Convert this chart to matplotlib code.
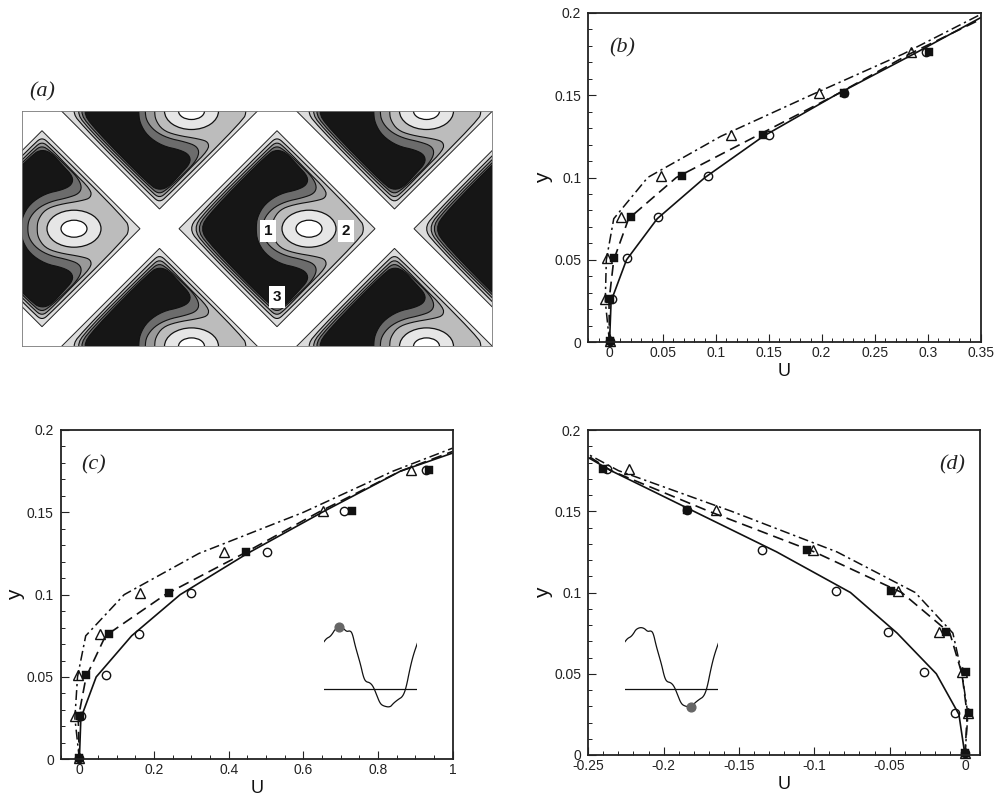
import matplotlib
matplotlib.use('Agg')
import matplotlib.pyplot as plt
from matplotlib.patches import Ellipse, Polygon
from matplotlib.ticker import MultipleLocator

plt.rcParams['font.family'] = ['Liberation Sans', 'DejaVu Sans']

W = 995
H = 797

# measured y stations of the lines and of the markers
y_line = [0, 0.025, 0.05, 0.075, 0.1, 0.125, 0.15, 0.175]
y_mark = [0.001, 0.026, 0.051, 0.076, 0.101, 0.126, 0.151, 0.176]

# panel b
b_solid_x = [0, 0.0015, 0.016, 0.045, 0.09, 0.145, 0.213, 0.287, 0.35]
b_solid_y = y_line + [0.197]
b_dash_x = [0, -0.0005, 0.004, 0.018, 0.063, 0.138, 0.213, 0.283, 0.35]
b_dash_y = y_line + [0.196]
b_dd_x = [0, -0.004, -0.003, 0.004, 0.036, 0.105, 0.19, 0.277, 0.35]
b_dd_y = y_line + [0.199]
b_circ = [0, 0.0025, 0.0164, 0.0453, 0.093, 0.150, 0.2214, 0.2985]
b_sq = [0, 0, 0.0044, 0.0204, 0.0686, 0.145, 0.2214, 0.3016]
b_tri = [0, -0.004, -0.0022, 0.0113, 0.0481, 0.1148, 0.1978, 0.2843]

# panel c
c_solid_x = [0, 0.004, 0.045, 0.14, 0.27, 0.45, 0.65, 0.86, 1.0]
c_solid_y = y_line + [0.186]
c_dash_x = [0, -0.003, 0.018, 0.07, 0.23, 0.44, 0.64, 0.86, 1.0]
c_dash_y = y_line + [0.187]
c_dd_x = [0, -0.012, -0.005, 0.017, 0.12, 0.32, 0.6, 0.84, 1.0]
c_dd_y = y_line + [0.189]
c_circ = [0, 0.005, 0.0714, 0.159, 0.299, 0.5036, 0.71, 0.9277]
c_sq = [0, 0.002, 0.018, 0.0786, 0.24, 0.446, 0.7295, 0.9366]
c_tri = [0, -0.012, -0.003, 0.0545, 0.163, 0.388, 0.653, 0.8875]

# panel d
d_solid_x = [0, -0.004, -0.019, -0.045, -0.076, -0.125, -0.18, -0.235, -0.25]
d_solid_y = y_line + [0.183]
d_dash_x = [0, 0.0015, -0.002, -0.01, -0.042, -0.1, -0.17, -0.235, -0.25]
d_dash_y = y_line + [0.184]
d_dd_x = [0, 0.002, -0.002, -0.008, -0.033, -0.085, -0.155, -0.23, -0.25]
d_dd_y = y_line + [0.185]
d_circ = [0, -0.0069, -0.0273, -0.051, -0.0853, -0.1347, -0.1846, -0.2374]
d_sq = [0, 0.0027, 0.0004, -0.0129, -0.0494, -0.1046, -0.1846, -0.2403]
d_tri = [0, 0.0022, -0.0018, -0.0173, -0.0443, -0.1008, -0.1653, -0.223]

y_ticks = [0, 0.05, 0.1, 0.15, 0.2]
y_labels = ['0', '0.05', '0.1', '0.15', '0.2']
b_ticks = [0, 0.05, 0.1, 0.15, 0.2, 0.25, 0.3, 0.35]
b_labels = ['0', '0.05', '0.1', '0.15', '0.2', '0.25', '0.3', '0.35']
c_ticks = [0, 0.2, 0.4, 0.6, 0.8, 1.0]
c_labels = ['0', '0.2', '0.4', '0.6', '0.8', '1']
d_ticks = [-0.25, -0.2, -0.15, -0.1, -0.05, 0]
d_labels = ['-0.25', '-0.2', '-0.15', '-0.1', '-0.05', '0']

# wavy wall sketch used as inset in c and d
wall_x = [0, 8, 18, 26, 33, 46, 58, 68, 78, 85, 93, 100, 110, 118, 125, 138, 148, 158, 168, 178, 198, 208, 223, 236, 246, 258, 268, 280]
wall_y = [-65, -55, -50, -40, -28, -22, -25, -35, -32, -40, -75, -100, -135, -170, -185, -188, -200, -225, -250, -258, -262, -250, -238, -230, -205, -145, -105, -70]
wall_level = -208

# contour outlines of one diamond cell, upper half, from the axis around to the axis
# (pixel offsets from the cell centre, the lower half is the mirror image)
lev1_x = [87, 84, 7, 0, -7, -80, -87]
lev1_y = [0, 9, 86, 91, 86, 12, 0]
lev2_x = [-5, -4, 3, 16, 40, 49, 49, 30, 8, 0, -8, -74, -83]
lev2_y = [0, 9, 19, 24, 28, 31, 39, 58, 81, 87, 81, 15, 0]
lev3_x = [-14.5, -13, -5, 8, 26, 37, 40, 35, 23, 8, 0, -8, -70, -80]
lev3_y = [0, 10, 20, 27, 31, 35, 42, 52, 64, 78, 83, 78, 16, 0]
lev4_x = [-21, -19.7, -12, 3, 21, 30, 31, 21, 9, 0, -9, -66, -77]
lev4_y = [0, 12, 25, 35, 39, 44, 52, 63, 76, 79, 75, 17, 0]
cell_half = 98
cell_cx = [277, 42, 512, 159.5, 394.5, 159.5, 394.5]
cell_cy = [228.7, 228.7, 228.7, 111, 111, 346.4, 346.4]
eye_dx = 32
eye_outer = [54, 37]
eye_inner = [26, 17]
box_labels = ['1', '2', '3']
box_x = [268, 346, 277]
box_y = [231, 231, 297]

c_light = '#dcdcdc'
c_mid1 = '#bcbcbc'
c_mid2 = '#999999'
c_mid3 = '#6c6c6c'
c_black = '#161616'


def axesPx(fig, left, right, top, bottom):
    return fig.add_axes([left / W, 1 - bottom / H, (right - left) / W, (bottom - top) / H])


def chaikin(pts, rounds=3, closed=True):
    for r in range(rounds):
        new = []
        n = len(pts) if closed else len(pts) - 1
        if not closed:
            new.append(pts[0])
        for i in range(n):
            p = pts[i]
            q = pts[(i + 1) % len(pts)]
            new.append((0.75 * p[0] + 0.25 * q[0], 0.75 * p[1] + 0.25 * q[1]))
            new.append((0.25 * p[0] + 0.75 * q[0], 0.25 * p[1] + 0.75 * q[1]))
        if not closed:
            new.append(pts[-1])
        pts = new
    return pts


def closedOutline(xs, ys):
    upper = list(zip(xs, ys))
    lower = [(x, -y) for x, y in upper[-2:0:-1]]
    return chaikin(upper + lower, 2)


def drawCell(ax, cx, cy):
    diamond = [(cx - cell_half, cy), (cx, cy - cell_half), (cx + cell_half, cy), (cx, cy + cell_half)]
    ax.add_patch(Polygon(diamond, closed=True, fc=c_light, ec='#222222', lw=0.7))
    levels = [(lev1_x, lev1_y, c_mid1), (lev2_x, lev2_y, c_mid2), (lev3_x, lev3_y, c_mid3), (lev4_x, lev4_y, c_black)]
    for xs, ys, col in levels:
        pts = [(cx + p[0], cy + p[1]) for p in closedOutline(xs, ys)]
        ax.add_patch(Polygon(pts, closed=True, fc=col, ec='#111111', lw=0.8))
    ax.add_patch(Ellipse((cx + eye_dx, cy), eye_outer[0], eye_outer[1], fc='#e6e6e6', ec='#111111', lw=0.9))
    ax.add_patch(Ellipse((cx + eye_dx, cy), eye_inner[0], eye_inner[1], fc='white', ec='#111111', lw=0.9))


def plotPanel(ax, solid, dash, dd, circ, sq, tri):
    ax.plot(solid[0], solid[1], color='#111111', lw=1.2, solid_joinstyle='miter')
    ax.plot(dash[0], dash[1], color='#111111', lw=1.2, dashes=(6.5, 3.5))
    ax.plot(dd[0], dd[1], color='#111111', lw=1.1, dashes=(6.5, 2.5, 1.5, 2.5))
    ax.plot(tri, y_mark, ls='none', marker='^', ms=7, mfc='none', mec='#111111', mew=1.0, clip_on=False)
    ax.plot(circ, y_mark, ls='none', marker='o', ms=6, mfc='none', mec='#111111', mew=1.0, clip_on=False)
    ax.plot(sq, y_mark, ls='none', marker='s', ms=5.6, mfc='#111111', mec='#111111', mew=0.3, clip_on=False)


def styleAxes(ax, xlim, xticks, xlabels, xminor, ylabel_x):
    ax.set_xlim(xlim)
    ax.set_ylim(0, 0.2)
    ax.set_xticks(xticks)
    ax.set_xticklabels(xlabels)
    ax.set_yticks(y_ticks)
    ax.set_yticklabels(y_labels)
    ax.xaxis.set_minor_locator(MultipleLocator(xminor))
    ax.yaxis.set_minor_locator(MultipleLocator(0.01))
    ax.tick_params(which='major', direction='in', length=6, width=0.8, labelsize=10, pad=3, colors='#222222')
    ax.tick_params(which='minor', direction='in', length=3, width=0.7, colors='#222222')
    ax.tick_params(axis='y', which='major', pad=5)
    for s in ax.spines.values():
        s.set_linewidth(1.3)
        s.set_color('#222222')
    ax.set_xlabel('U', fontsize=13, labelpad=2, color='#111111')
    ax.set_ylabel('y', fontsize=15, color='#111111')
    ax.yaxis.set_label_coords(ylabel_x, 0.5)


def drawInset(fig, left, top, dot_i):
    ax = axesPx(fig, left, left + 280 / 3, top, top + 90)
    wall = chaikin(list(zip(wall_x, wall_y)), 2, closed=False)
    ax.plot([p[0] for p in wall], [p[1] for p in wall], color='#111111', lw=0.9)
    ax.plot([wall_x[0], wall_x[-1]], [wall_level, wall_level], color='#111111', lw=0.9)
    ax.plot(wall_x[dot_i], wall_y[dot_i], marker='o', ms=6.3, color='#666666', clip_on=False)
    ax.set_xlim(0, 280)
    ax.set_ylim(-270, 0)
    ax.axis('off')


fig = plt.figure(figsize=(W / 100, H / 100), dpi=100)

# panel a
ax_a = axesPx(fig, 21.7, 492, 111, 346.3)
ax_a.set_xlim(21.7, 492)
ax_a.set_ylim(346.3, 111)
for cx, cy in zip(cell_cx, cell_cy):
    drawCell(ax_a, cx, cy)
for t, x, y in zip(box_labels, box_x, box_y):
    ax_a.text(x, y, t, fontsize=11, fontweight='bold', ha='center', va='center', color='#111111',
              bbox=dict(fc='white', ec='none', pad=2.5))
ax_a.set_xticks([])
ax_a.set_yticks([])
for s in ax_a.spines.values():
    s.set_linewidth(0.6)
    s.set_color('#777777')

# panel b
ax_b = axesPx(fig, 588.3, 980.7, 12.7, 342.3)
plotPanel(ax_b, (b_solid_x, b_solid_y), (b_dash_x, b_dash_y), (b_dd_x, b_dd_y), b_circ, b_sq, b_tri)
styleAxes(ax_b, (-0.02, 0.35), b_ticks, b_labels, 0.01, -0.09)

# panel c
ax_c = axesPx(fig, 60.7, 452.7, 430, 759.3)
plotPanel(ax_c, (c_solid_x, c_solid_y), (c_dash_x, c_dash_y), (c_dd_x, c_dd_y), c_circ, c_sq, c_tri)
styleAxes(ax_c, (-0.05, 1), c_ticks, c_labels, 0.05, -0.09)
drawInset(fig, 324, 620, 5)

# panel d
ax_d = axesPx(fig, 588.3, 980, 430, 755)
plotPanel(ax_d, (d_solid_x, d_solid_y), (d_dash_x, d_dash_y), (d_dd_x, d_dd_y), d_circ, d_sq, d_tri)
styleAxes(ax_d, (-0.25, 0.01), d_ticks, d_labels, 0.01, -0.09)
drawInset(fig, 625, 620, 20)

# panel letters
for t, x, y in [('(a)', 42, 92), ('(b)', 622, 48), ('(c)', 94, 465), ('(d)', 952, 465)]:
    fig.text(x / W, 1 - y / H, t, fontsize=16, family=['Liberation Serif'], style='italic',
             ha='center', va='center', color='#222222')

fig.savefig('out.png', dpi=100)
